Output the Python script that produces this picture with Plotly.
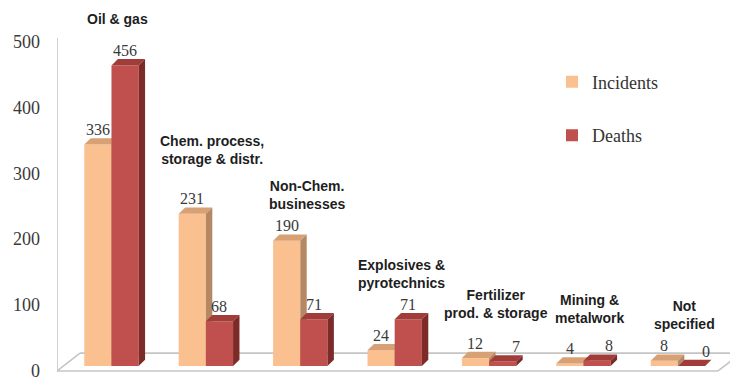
import plotly.graph_objects as go

# ---- data -------------------------------------------------------------
categories = [
    "Oil & gas",
    "Chem. process,<br>storage & distr.",
    "Non-Chem.<br>businesses",
    "Explosives &<br>pyrotechnics",
    "Fertilizer<br>prod. & storage",
    "Mining &<br>metalwork",
    "Not<br>specified",
]
incidents = [336, 231, 190, 24, 12, 4, 8]
deaths = [456, 68, 71, 71, 7, 8, 0]
y_ticks = [0, 100, 200, 300, 400, 500]

# ---- style ------------------------------------------------------------
INC_FRONT, INC_TOP, INC_SIDE = "#FAC090", "#D8A175", "#B48862"
DEA_FRONT, DEA_TOP, DEA_SIDE = "#C0504D", "#A03C39", "#7D2B29"
SERIF = "Liberation Serif, Times New Roman, serif"
SANS = "Liberation Sans, Arial, sans-serif"
FLOOR = "#C4C4C4"

BAR_W = 0.288   # front-face width of one bar (category units)
DX = 0.068      # depth offset of the 3-D faces, horizontal (category units)
DY = 9.5        # depth offset of the 3-D faces, vertical (value units)

# pixel lift of each group title above its tallest bar
title_lift = [30, 38, 21, 20, 29, 27, 21]
# sideways nudge (px) of the deaths value labels on the flat bars
death_label_nudge = [0, 0, 0, 0, 13, 12, 15]

W, H = 730, 381
M_L, M_R, M_T, M_B = 57, 0, 10, 4
X_RANGE = [-0.577, 6.552]
Y_RANGE = [-13.6, 540.0]

xs = list(range(len(categories)))


def top_face(x_left, v):
    return ([x_left, x_left + BAR_W, x_left + BAR_W + DX, x_left + DX, x_left],
            [v, v, v + DY, v + DY, v])


def side_face(x_right, v):
    return ([x_right, x_right, x_right + DX, x_right + DX, x_right],
            [0, v, v + DY, DY, 0])


def face_trace(px, py, color, xa, ya):
    return go.Scatter(x=px, y=py, mode="lines", fill="toself", fillcolor=color,
                      line=dict(width=0, color=color), hoverinfo="skip",
                      showlegend=False, xaxis=xa, yaxis=ya)


fig = go.Figure()

# Incidents: rear subplot (left bar of each pair)
fig.add_trace(go.Bar(x=xs, y=incidents, width=BAR_W, offset=-BAR_W, name="Incidents",
                     marker=dict(color=INC_FRONT, line=dict(width=0)),
                     legendgroup="inc", xaxis="x", yaxis="y"))
for i, v in zip(xs, incidents):
    fig.add_trace(face_trace(*top_face(i - BAR_W, v), INC_TOP, "x", "y"))
    fig.add_trace(face_trace(*side_face(i, v), INC_SIDE, "x", "y"))

# Deaths: overlaid subplot, so it sits in front of the incidents bars
fig.add_trace(go.Bar(x=xs, y=deaths, width=BAR_W, offset=0, name="Deaths",
                     marker=dict(color=DEA_FRONT, line=dict(width=0)),
                     legendgroup="dea", xaxis="x2", yaxis="y2"))
for i, v in zip(xs, deaths):
    fig.add_trace(face_trace(*top_face(i, v), DEA_TOP, "x2", "y2"))
    fig.add_trace(face_trace(*side_face(i + BAR_W, v), DEA_SIDE, "x2", "y2"))

# ---- floor and wall edge ---------------------------------------------
floor_front, floor_back = -7.5, 19.6
wall_top = 497.7
floor_left_back = -0.333
floor_right_front, floor_right_back = 6.425, 6.669
edge = dict(color=FLOOR, width=1.6)
shapes = [
    dict(type="line", xref="x", yref="y", x0=X_RANGE[0], x1=X_RANGE[0],
         y0=floor_front, y1=wall_top, line=edge, layer="below"),
    dict(type="line", xref="x", yref="y", x0=X_RANGE[0], x1=floor_right_front,
         y0=floor_front, y1=floor_front, line=edge, layer="below"),
    dict(type="line", xref="x", yref="y", x0=X_RANGE[0], x1=floor_left_back,
         y0=floor_front, y1=floor_back, line=edge, layer="below"),
    dict(type="line", xref="x", yref="y", x0=floor_left_back, x1=floor_right_back,
         y0=floor_back, y1=floor_back, line=edge, layer="below"),
    dict(type="line", xref="x", yref="y", x0=floor_right_front, x1=floor_right_back,
         y0=floor_front, y1=floor_back, line=edge, layer="below"),
]

# ---- labels -----------------------------------------------------------
value_font = dict(family=SERIF, size=16, color="#3A3A3A")
annotations = []
for i, a, d, nudge in zip(xs, incidents, deaths, death_label_nudge):
    annotations.append(dict(x=i - BAR_W / 2, y=a, xref="x", yref="y", text=str(a),
                            showarrow=False, yanchor="middle", yshift=15,
                            font=value_font))
    annotations.append(dict(x=i + BAR_W / 2, y=d, xref="x", yref="y", text=str(d),
                            showarrow=False, yanchor="middle", yshift=15,
                            xshift=nudge, font=value_font))
for i, name, a, d, lift in zip(xs, categories, incidents, deaths, title_lift):
    annotations.append(dict(x=i + DX, y=max(a, d) + DY, xref="x", yref="y", text=name,
                            showarrow=False, yanchor="bottom", yshift=lift,
                            font=dict(family=SANS, size=14, color="#1E1E1E",
                                      weight="bold")))

fig.update_layout(
    width=W, height=H,
    margin=dict(l=M_L, r=M_R, t=M_T, b=M_B),
    paper_bgcolor="white", plot_bgcolor="white",
    barmode="overlay",
    showlegend=True,
    legend=dict(x=0.7355, y=0.853, xanchor="left", yanchor="top",
                font=dict(family=SERIF, size=18, color="#333333"),
                tracegroupgap=27, bgcolor="rgba(0,0,0,0)"),
    xaxis=dict(range=X_RANGE, visible=False, fixedrange=True),
    yaxis=dict(range=Y_RANGE, tickvals=y_ticks, showgrid=False, zeroline=False,
               showline=False, ticks="", ticklabelstandoff=16, ticklabelshift=5,
               ticklabeloverflow="allow",
               tickfont=dict(family=SERIF, size=18, color="#3A3A3A")),
    xaxis2=dict(range=X_RANGE, overlaying="x", visible=False, matches="x"),
    yaxis2=dict(range=Y_RANGE, overlaying="y", visible=False, matches="y"),
    shapes=shapes,
    annotations=annotations,
)

fig.write_html("out.html")
